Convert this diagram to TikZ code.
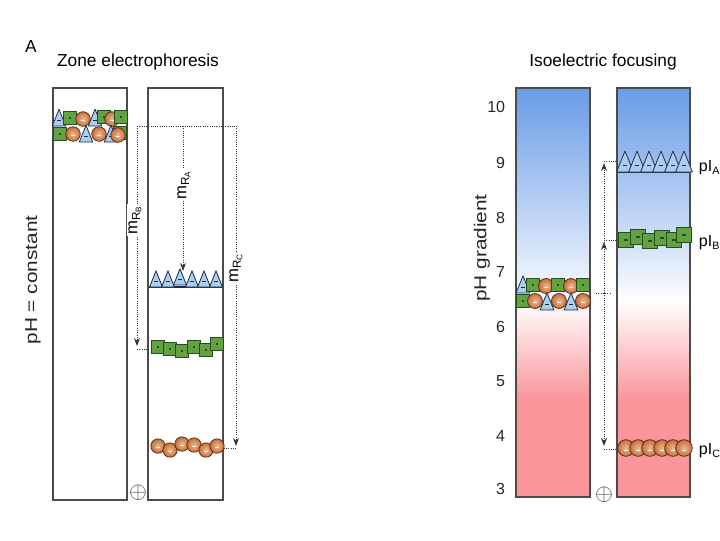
\documentclass[tikz,border=0pt]{standalone}
\usepackage{fontspec}
\usepackage{graphicx}
\setmainfont{Liberation Sans}
\usetikzlibrary{arrows.meta}

\definecolor{frame}{RGB}{75,75,75}
\definecolor{triblue}{RGB}{172,205,236}
\definecolor{trinavy}{RGB}{30,45,75}
\definecolor{sqgreen}{RGB}{98,162,66}
\definecolor{sqdark}{RGB}{38,78,28}
\definecolor{beadbrown}{RGB}{196,112,62}
\definecolor{beadlight}{RGB}{240,185,140}
\definecolor{beaddark}{RGB}{95,45,20}
\definecolor{pHblue}{RGB}{105,155,230}
\definecolor{pHred}{RGB}{250,150,155}

% pH gradient: the path box maps onto 25bp..75bp
\pgfdeclareverticalshading{phgrad}{100bp}{color(0bp)=(pHred); color(37bp)=(pHred); color(49bp)=(white); color(53bp)=(pHblue!18); color(60bp)=(pHblue!45); color(75bp)=(pHblue); color(100bp)=(pHblue)}

\tikzset{every picture/.style={line width=0.75pt}}
\tikzset{
  column/.style={draw=frame, line width=1.1pt},
  track/.style={densely dotted, draw=black!80, line width=0.7pt},
  migr/.style={track, -{Stealth[length=6pt,width=4.5pt]}},
  title/.style={font=\fontsize{13}{15}\selectfont},
  sidelbl/.style={font=\fontsize{13}{15}\selectfont, rotate=90, text=black!85},
  tick/.style={font=\fontsize{12}{14}\selectfont, anchor=east, text=black!85},
  mrlbl/.style={font=\fontsize{12.5}{14}\selectfont, rotate=90, fill=white, inner sep=1pt},
  pilbl/.style={font=\fontsize{12}{14}\selectfont, anchor=west},
  anode/.style={font=\fontsize{19}{21}\selectfont, text=black!75},
  % pics are not flipped: y points up inside them
  tri/.pic={
    \draw[fill=triblue, draw=trinavy, line width=0.6pt, line join=round] (-6,0) -- (0,15) -- (6,0) -- cycle;
    \draw[trinavy, line width=0.5pt] (-1.5,5) -- (1.5,5);
  },
  sqr/.pic={
    \draw[fill=sqgreen, draw=sqdark, line width=0.6pt] (-5.5,-5.5) rectangle (5.5,5.5);
    \fill[sqdark] (-1.2,-0.6) rectangle (1.2,0.6);
  },
  bead/.pic={
    \shadedraw[inner color=beadlight, outer color=beadbrown, draw=beaddark, line width=0.6pt] (0,0) circle (6.5);
    \draw[white, line width=0.6pt] (-1.5,-1.5) -- (1.5,-1.5);
  }
}

\begin{document}
\begin{tikzpicture}[x=0.75pt,y=0.75pt,yscale=-1,xscale=1]
	\path[use as bounding box] (0,0) rectangle (720,540);

	%%% Zone electrophoresis
	% Text Node
	\node[font=\fontsize{13}{15}\selectfont] (panelA) at (31,47) {A};
	% Text Node
	\node[title] (zeTitle) at (138,62) {Zone electrophoresis};
	% Text Node
	\node[sidelbl] (zeSide) at (33,280) {\scalebox{1.2}[1]{pH = constant}};

	%Shape: Rectangle
	\draw[column] (53,88) rectangle (127,500);
	%Shape: Rectangle
	\draw[column] (148,88) rectangle (223,500);

	% mixed sample at the start
	\foreach \s/\x/\y in {tri/59/126, sqr/70/118, bead/83/119, tri/95/126, sqr/104/117, bead/112/119, sqr/121/117,
	                      sqr/60/134, bead/73/134, tri/86/142, bead/99/134, tri/111/142, sqr/120/133, bead/118/135}
	  \pic[scale=1.12] at (\x,\y) {\s};

	% separated zones
	\draw[trinavy, line width=0.8pt] (149,287) -- (222,287);
	\foreach \x/\y in {156/287, 168/287, 180/285, 192/287, 204/287, 216/287}
	  \pic[scale=1.08] at (\x,\y) {tri};
	\foreach \x/\y in {158/347, 170/349, 182/351, 194/347, 206/350, 217/344}
	  \pic[scale=1.15] at (\x,\y) {sqr};
	\foreach \x/\y in {158/446, 170/450, 182/444, 194/445, 206/450, 217/446}
	  \pic[scale=1.1] at (\x,\y) {bead};

	% migration distances
	\coordinate (zeO) at (137,126);
	\coordinate (zeAtop) at (183,126);
	\coordinate (zeCtop) at (236,126);
	\coordinate (zeBend) at (137,346);
	\coordinate (zeAend) at (183,271);
	\coordinate (zeCend) at (236,446);
	\draw[track] (zeO) -- (zeCtop);
	\draw[migr] (zeO) -- (zeBend);
	\draw[migr] (zeAtop) -- (zeAend);
	\draw[migr] (zeCtop) -- (zeCend);
	\coordinate (zeBtick) at (137,349);
	\coordinate (zeBband) at (151,349);
	\coordinate (zeCtick) at (236,448);
	\coordinate (zeCband) at (223,448);
	\draw[track] (zeBtick) -- (zeBband);
	\draw[track] (zeCtick) -- (zeCband);
	% Text Node
	\node[mrlbl] (mrB) at (135,220) {m\textsubscript{R\textsubscript{B}}};
	% Text Node
	\node[mrlbl] (mrA) at (184,185) {m\textsubscript{R\textsubscript{A}}};
	% Text Node
	\node[mrlbl] (mrC) at (236,268) {m\textsubscript{R\textsubscript{C}}};
	% Text Node
	\node[anode] (zeAnode) at (138,493) {$\oplus$};

	%%% Isoelectric focusing
	% Text Node
	\node[title] (ifTitle) at (603,62) {Isoelectric focusing};
	% Text Node
	\node[sidelbl] (ifSide) at (482,248) {\scalebox{1.2}[1]{pH gradient}};

	%Shape: Rectangle
	\shade[shading=phgrad] (516,88) rectangle (590,497);
	\draw[column] (516,88) rectangle (590,497);
	%Shape: Rectangle
	\shade[shading=phgrad] (617,88) rectangle (690,497);
	\draw[column] (617,88) rectangle (690,497);

	% pH scale
	\foreach \ph/\y in {10/107, 9/163, 8/218, 7/272, 6/327, 5/381, 4/436, 3/489}
	  \node[tick] (ph\ph) at (510,\y) {\ph};

	% mixed sample at the start
	\foreach \s/\x/\y in {tri/523/293, sqr/533/285, bead/546/286, sqr/558/285, bead/571/286, sqr/583/285,
	                      sqr/523/301, bead/535/301, tri/547/310, bead/559/301, tri/571/310, bead/583/301}
	  \pic[scale=1.15] at (\x,\y) {\s};

	% focused zones
	\draw[trinavy, line width=0.8pt] (617,172) -- (690,172);
	\foreach \x in {625,637,649,661,673,684}
	  \pic[scale=1.4] at (\x,172) {tri};
	\foreach \x/\y in {626/240, 638/237, 650/241, 662/238, 674/240, 684/235}
	  \pic[scale=1.35] at (\x,\y) {sqr};
	\foreach \x in {626,638,650,662,673,684}
	  \pic[scale=1.28] at (\x,448) {bead};

	% focusing paths
	\coordinate (ifStart) at (596,293);
	\coordinate (ifO) at (604,293);
	\coordinate (ifStartR) at (611,293);
	\coordinate (ifA) at (604,163);
	\coordinate (ifB) at (604,242);
	\coordinate (ifC) at (604,446);
	\draw[track] (ifStart) -- (ifStartR);
	\draw[migr] (ifO) -- (ifA);
	\draw[migr] (ifO) -- (ifB);
	\draw[migr] (ifO) -- (ifC);
	\coordinate (ifAtick) at (604,161);
	\coordinate (ifAband) at (617,161);
	\coordinate (ifBtick) at (604,240);
	\coordinate (ifBband) at (617,240);
	\coordinate (ifCtick) at (604,449);
	\coordinate (ifCband) at (617,449);
	\draw[track] (ifAtick) -- (ifAband);
	\draw[track] (ifBtick) -- (ifBband);
	\draw[track] (ifCtick) -- (ifCband);
	% Text Node
	\node[pilbl] (piA) at (694,168) {pI\textsubscript{A}};
	% Text Node
	\node[pilbl] (piB) at (694,243) {pI\textsubscript{B}};
	% Text Node
	\node[pilbl] (piC) at (694,451) {pI\textsubscript{C}};
	% Text Node
	\node[anode] (ifAnode) at (604,495) {$\oplus$};

\end{tikzpicture}
\end{document}
